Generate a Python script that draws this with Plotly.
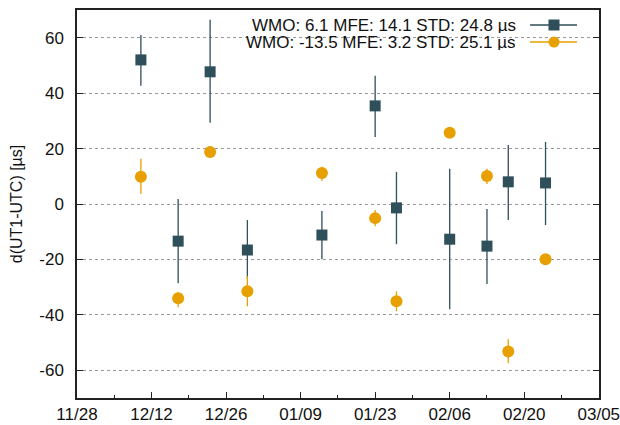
import plotly.graph_objects as go

# ---- data ----
dates = ["2023-12-10", "2023-12-17", "2023-12-23", "2023-12-30", "2024-01-13",
         "2024-01-23", "2024-01-27", "2024-02-06", "2024-02-13", "2024-02-17", "2024-02-24"]

s1_name = "WMO: 6.1 MFE: 14.1 STD: 24.8 \u00b5s"
s1_val = [52.0, -13.4, 47.7, -16.6, -11.2, 35.4, -1.4, -12.7, -15.2, 8.0, 7.6]
s1_hi = [61.0, 1.8, 66.5, -5.8, -2.5, 46.3, 11.6, 12.7, -1.8, 21.3, 22.4]
s1_lo = [42.7, -28.6, 29.3, -27.0, -19.9, 24.2, -14.5, -38.0, -28.9, -5.8, -7.6]

s2_name = "WMO: -13.5 MFE: 3.2 STD: 25.1 \u00b5s"
s2_val = [9.8, -34.0, 18.8, -31.5, 11.2, -5.1, -35.1, 25.7, 10.1, -53.2, -19.9]
s2_hi = [16.3, -31.8, 19.9, -26.0, 13.4, -2.2, -31.5, 26.8, 12.7, -48.8, -18.8]
s2_lo = [3.6, -37.3, 17.7, -36.9, 8.3, -8.0, -38.7, 24.6, 7.2, -57.5, -21.0]

x_tickvals = ["2023-11-28", "2023-12-12", "2023-12-26", "2024-01-09",
              "2024-01-23", "2024-02-06", "2024-02-20", "2024-03-05"]
x_ticktext = ["11/28", "12/12", "12/26", "01/09", "01/23", "02/06", "02/20", "03/05"]
y_tickvals = [-60, -40, -20, 0, 20, 40, 60]
y_ticktext = ["-60", "-40", "-20", "0", "20", "40", "60"]

C1 = "#2f4f5a"
C2 = "#e8a000"
FONT = "Liberation Sans, Arial, sans-serif"

fig = go.Figure()

def add_series(vals, hi, lo, color, symbol, size, name):
    fig.add_trace(go.Scatter(
        x=dates, y=vals, mode="markers", name=name, showlegend=False,
        marker=dict(symbol=symbol, size=size, color=color, line=dict(width=0)),
        error_y=dict(type="data", symmetric=False,
                     array=[h - v for h, v in zip(hi, vals)],
                     arrayminus=[v - l for v, l in zip(vals, lo)],
                     color=color, thickness=1.3, width=0),
    ))

add_series(s1_val, s1_hi, s1_lo, C1, "square", 11, s1_name)
add_series(s2_val, s2_hi, s2_lo, C2, "circle", 12, s2_name)

shapes = [
    # opaque key background (erases grid, below data)
    dict(type="rect", xref="paper", yref="paper", x0=0.207, x1=0.977, y0=0.897, y1=1.0,
         fillcolor="white", line=dict(width=0), layer="between"),
]
rows = [(C1, "square", -15), (C2, "circle", -32)]
for color, sym, dy in rows:
    shapes.append(dict(type="line", xref="paper", yref="paper",
                       xsizemode="pixel", ysizemode="pixel", xanchor=1, yanchor=1,
                       x0=-69, x1=-22, y0=dy, y1=dy, line=dict(color=color, width=1.5),
                       layer="above"))
    shapes.append(dict(type="rect" if sym == "square" else "circle",
                       xref="paper", yref="paper",
                       xsizemode="pixel", ysizemode="pixel", xanchor=1, yanchor=1,
                       x0=-50.5, x1=-39.5, y0=dy - 5.5, y1=dy + 5.5,
                       fillcolor=color, line=dict(width=0), layer="above"))

annotations = [
    dict(text=s1_name, xref="paper", yref="paper", x=0.845, y=0.961,
         xanchor="right", yanchor="middle", showarrow=False, height=16, valign="middle",
         font=dict(family=FONT, size=17, color="#111")),
    dict(text=s2_name, xref="paper", yref="paper", x=0.845, y=0.917,
         xanchor="right", yanchor="middle", showarrow=False, height=16, valign="middle",
         font=dict(family=FONT, size=17, color="#111")),
]

fig.update_layout(
    width=620, height=425,
    margin=dict(l=77, r=21, t=10, b=27),
    paper_bgcolor="white", plot_bgcolor="white",
    font=dict(family=FONT, size=17, color="#111"),
    shapes=shapes, annotations=annotations,
    showlegend=False,
)
fig.update_xaxes(
    type="date", range=["2023-11-28", "2024-03-05 01:00"],
    tickmode="array", tickvals=x_tickvals, ticktext=x_ticktext,
    ticks="inside", ticklen=6, tickwidth=1, tickcolor="#222",
    minor=dict(dtick=7 * 86400000, tick0="2023-11-28", ticks="inside", ticklen=3,
               tickcolor="#222", showgrid=False),
    showgrid=False, zeroline=False, automargin=False,
    showline=True, linecolor="#222", linewidth=1.5, mirror=True,
    ticklabeloverflow="allow", ticklabelstandoff=0,
    tickfont=dict(size=17, family=FONT, color="#111"),
)
fig.update_yaxes(
    range=[-70, 70], tickmode="array", tickvals=y_tickvals, ticktext=y_ticktext,
    ticks="inside", ticklen=6, tickwidth=1, tickcolor="#222",
    showgrid=True, gridcolor="#999", gridwidth=1, griddash="dot",
    zeroline=False, automargin=False,
    showline=True, linecolor="#222", linewidth=1.5, mirror="ticks",
    ticklabelstandoff=8,
    tickfont=dict(size=17, family=FONT, color="#111"),
    title=dict(text="d(UT1-UTC) [\u00b5s]", standoff=13,
               font=dict(size=16, family=FONT, color="#111")),
)

fig.write_html("out.html", config={"displayModeBar": False},
               post_script="document.body.style.margin='0';document.body.style.overflow='hidden';")
